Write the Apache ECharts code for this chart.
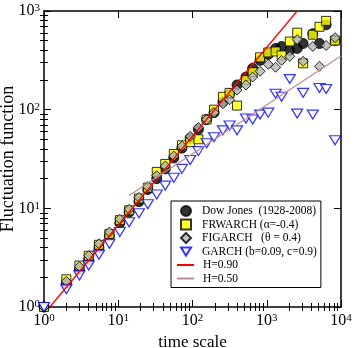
<!DOCTYPE html>
<html>
<head>
<meta charset="utf-8">
<script src="https://cdn.jsdelivr.net/npm/echarts@6/dist/echarts.min.js"></script>
<style>
  html, body { margin: 0; padding: 0; background: #fff; }
  #chart { width: 354px; height: 348px; }
</style>
</head>
<body>
<div id="chart"></div>
<script>
const serif = 'Liberation Serif'

// time scales (x)
const scales = [1, 2, 3, 4, 5.5, 7.6, 10.5, 14, 19, 25, 33, 43, 56, 72, 93, 120, 155, 195, 257, 316,
  398, 525, 646, 813, 1047, 1318, 1585, 2042, 2570, 3090, 4169, 5129, 6310, 8318]

// fluctuation function of each series
const dowJones = [1, 1.74, 2.40, 3.02, 3.98, 5.25, 7.08, 9.12, 11.7, 15.5, 20.0, 25.1, 32.4, 40.7, 51.3, 63.1, 79.4, 93.3, 120, 145,
  178, 214, 263, 316, 363, 417, 437, 398, 417, 468, 589, 468, 724, 501]
const frwarch = [1, 1.91, 2.63, 3.31, 4.27, 5.50, 7.59, 9.55, 12.6, 16.2, 23.4, 28.2, 35.5, 43.6, 46.8, 50.1, 79.4, 100, 135, 148,
  110, 200, 240, 339, 380, 389, 355, 490, 603, 295, 575, 692, 794, 501]
const figarch = [1, 1.82, 2.57, 3.31, 4.37, 5.75, 7.76, 9.77, 12.9, 16.6, 21.4, 26.9, 33.9, 42.7, 53.7, 66.1, 79.4, 93.3, 115, 126,
  158, 178, 214, 245, 288, 269, 316, 347, 513, 309, 437, 275, 447, 537]
const garch = [1, 1.51, 2.09, 2.63, 3.39, 4.37, 5.75, 7.24, 8.91, 11.0, 13.8, 17.0, 20.4, 25.1, 30.9, 38.0, 45.7, 52.5, 61.7, 69.2,
  61.7, 81.3, 79.4, 89.1, 93.3, 145, 135, 204, 91.2, 148, 89.1, 166, 162, 49]

// fitted power laws (end points)
const h90 = [[1.2, 1], [2570, 1000]]
const h50 = [[14, 13.5], [10000, 350]]

const names = ['Dow Jones  (1928-2008)', 'FRWARCH (α=-0.4)', 'FIGARCH   (θ = 0.4)', 'GARCH (b=0.09, c=0.9)', 'H=0.90', 'H=0.50']

const pair = arr => arr.map((v, i) => [scales[i], v])

// minor tick positions (2..9 of every decade), in decades
const minorPos = decades => {
  const out = []
  for (let d = 0; d < decades; d++) {
    for (let k = 2; k <= 9; k++) out.push(d + Math.log10(k))
  }
  return out
}

const axisLine = { show: true, lineStyle: { color: '#000', width: 1.5 } }
const tick = { show: true, inside: true, length: 7, lineStyle: { color: '#000', width: 1 } }
const powLabel = {
  margin: 6,
  formatter: v => '{b|10}{s|' + Math.round(Math.log10(v)) + '}',
  rich: {
    b: { fontSize: 16, fontFamily: serif, color: '#000' },
    s: { fontSize: 11, fontFamily: serif, color: '#000', verticalAlign: 'top' }
  }
}
const minorAxis = (pos, max) => ({
  type: 'value', gridIndex: 1, min: 0, max: max, position: pos,
  axisLine: { show: false },
  axisTick: { show: true, inside: true, length: 4, customValues: minorPos(max), lineStyle: { color: '#000', width: 1 } },
  axisLabel: { show: false },
  splitLine: { show: false }
})

const gridBox = { left: 44, right: 13, top: 11, bottom: 41, outerBoundsMode: 'none' }
const legendText = pad => ({ fontFamily: serif, fontSize: 11.5, color: '#000', lineHeight: 10, padding: [0, 0, 0, pad] })

const chart = echarts.init(document.getElementById('chart'))
chart.setOption({
  animation: false,
  backgroundColor: '#fff',
  grid: [gridBox, gridBox],
  legend: [{
    // marker entries, box drawn round all six rows
    orient: 'vertical',
    left: 171,
    top: 201,
    padding: [4, 4, 30, 9],
    itemGap: 1.5,
    itemWidth: 10,
    itemHeight: 10,
    borderColor: '#000',
    borderWidth: 1,
    backgroundColor: '#fff',
    textStyle: legendText(6),
    data: [names[0], names[1], names[2], { name: names[3], icon: 'path://M0,0 L11,0 L5.5,9 Z' }]
  }, {
    orient: 'vertical',
    left: 176,
    top: 259,
    padding: 0,
    itemGap: 1.5,
    itemWidth: 17,
    itemHeight: 10,
    textStyle: legendText(4),
    data: names.slice(4)
  }],
  xAxis: [{
    type: 'log', min: 1, max: 10000, position: 'bottom',
    name: 'time scale', nameLocation: 'middle', nameGap: 25,
    nameTextStyle: { fontFamily: serif, fontSize: 17, color: '#000' },
    axisLine, axisTick: tick, axisLabel: powLabel, splitLine: { show: false }
  }, {
    type: 'log', min: 1, max: 10000, position: 'top',
    axisLine, axisTick: tick, axisLabel: { show: false }, splitLine: { show: false }
  }, minorAxis('bottom', 4), minorAxis('top', 4)],
  yAxis: [{
    type: 'log', min: 1, max: 1000, position: 'left',
    name: 'Fluctuation function', nameLocation: 'middle', nameGap: 27, nameRotate: 90, nameMoveOverlap: false,
    nameTextStyle: { fontFamily: serif, fontSize: 18, color: '#000' },
    axisLine, axisTick: tick, axisLabel: Object.assign({}, powLabel, { margin: 4 }), splitLine: { show: false }
  }, {
    type: 'log', min: 1, max: 1000, position: 'right',
    axisLine, axisTick: tick, axisLabel: { show: false }, splitLine: { show: false }
  }, minorAxis('left', 3), minorAxis('right', 3)],
  series: [{
    name: names[0], type: 'scatter', data: pair(dowJones), clip: false,
    symbol: 'circle', symbolSize: 10,
    itemStyle: { color: '#000', borderColor: '#000', borderWidth: 1 }
  }, {
    name: names[1], type: 'scatter', data: pair(frwarch), clip: false,
    symbol: 'rect', symbolSize: 9,
    itemStyle: { color: '#ffff00', borderColor: '#000', borderWidth: 1 }
  }, {
    name: names[2], type: 'scatter', data: pair(figarch), clip: false,
    symbol: 'diamond', symbolSize: 10,
    itemStyle: { color: '#b4b4b4', borderColor: '#000', borderWidth: 1 }
  }, {
    name: names[3], type: 'scatter', data: pair(garch), clip: false,
    symbol: 'triangle', symbolSize: [11, 9], symbolRotate: 180,
    itemStyle: { color: '#fff', borderColor: '#0000ff', borderWidth: 1.2 }
  }, {
    name: names[4], type: 'line', data: h90, symbol: 'none', z: 5,
    lineStyle: { color: '#ff0000', width: 1.3 }, itemStyle: { color: '#ff0000', opacity: 0 }
  }, {
    name: names[5], type: 'line', data: h50, symbol: 'none', z: 5,
    lineStyle: { color: '#bc8f8f', width: 1.3 }, itemStyle: { color: '#bc8f8f', opacity: 0 }
  }]
})
</script>
</body>
</html>
